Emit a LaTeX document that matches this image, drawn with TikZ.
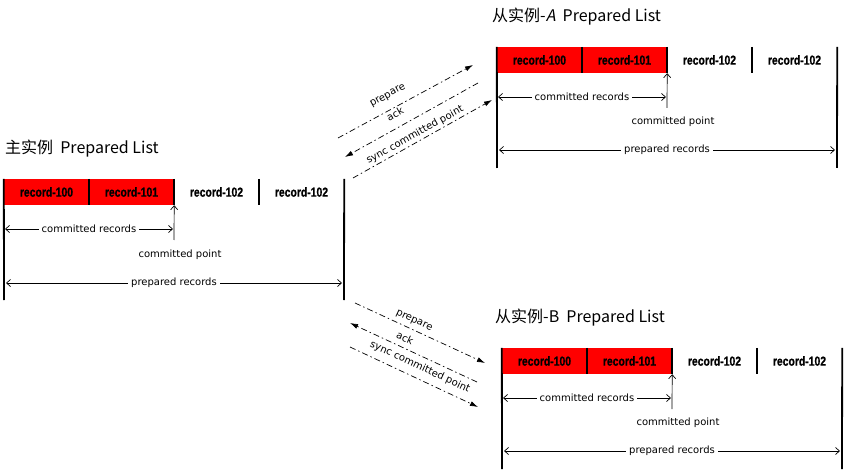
\documentclass[tikz,border=0pt]{standalone}
\usepackage{fontspec}
\setmainfont{DejaVu Sans}
\newfontfamily\titlefont{Noto Sans CJK SC}
\newfontfamily\titleslant[FakeSlant=0.2]{Noto Sans CJK SC}
\newfontfamily\recfont[FakeStretch=0.8, BoldFeatures={FakeBold=1}]{Liberation Sans}
\usetikzlibrary{arrows.meta}

\tikzset{
  cell/.style={minimum width=85pt, minimum height=26pt, inner sep=0pt, font=\recfont\bfseries\fontsize{13}{13}\selectfont},
  done/.style={cell, fill=red},
  bar/.style={line width=1.8pt},
  span/.style={line width=0.7pt, {Straight Barb[length=4pt,width=7pt]}-{Straight Barb[length=4pt,width=7pt]}},
  pointer/.style={line width=0.7pt, -{Straight Barb[length=4pt,width=7pt]}},
  spanlbl/.style={fill=white, inner sep=3pt, font=\fontsize{10}{10}\selectfont},
  lbl/.style={inner sep=1pt, font=\fontsize{10}{10}\selectfont},
  title/.style={anchor=west, inner sep=0pt, font=\titlefont\fontsize{16}{16}\selectfont},
  msg/.style={line width=0.7pt, dash pattern=on 6pt off 3pt on 1.5pt off 3pt, -{Latex[length=8pt,width=5pt]}},
}

\begin{document}
\begin{tikzpicture}[x=1pt, y=-1pt]
    \useasboundingbox (0,0) rectangle (845,470);

    % main list
    \node[title] (mt) at (5,149) {主实例\ \ Prepared List};

    \node[done] (m1) at (46.5,192) {record-100};
    \node[done] (m2) at (131.5,192) {record-101};
    \node[cell] (m3) at (216.5,192) {record-102};
    \node[cell] (m4) at (301.5,192) {record-102};

    \coordinate (mL) at (4,300);
    \coordinate (mR) at (344,300);
    \coordinate (mcp) at (174,240);
    \coordinate (mc0) at (5,229);
    \coordinate (mc1) at (173,229);
    \coordinate (mp0) at (6,283);
    \coordinate (mp1) at (342,283);

    \draw[bar] (m1.north west) -- (mL);
    \draw[bar] (m4.north east) -- (mR);
    \draw[bar] (m1.north east) -- (m1.south east);
    \draw[bar] (m2.north east) -- (m2.south east);
    \draw[bar] (m3.north east) -- (m3.south east);

    \draw[pointer] (mcp) -- (m2.south east);
    \draw[span] (mc0) -- node[spanlbl] (mcr) {committed records} (mc1);
    \draw[span] (mp0) -- node[spanlbl] (mpr) {prepared records} (mp1);
    \node[lbl] (mpt) at (180,255) {committed point};

    % replica A
    \node[title] (at) at (492,17) {从实例-{\titleslant A}\ \ Prepared List};

    \node[done] (a1) at (539.5,60) {record-100};
    \node[done] (a2) at (624.5,60) {record-101};
    \node[cell] (a3) at (709.5,60) {record-102};
    \node[cell] (a4) at (794.5,60) {record-102};

    \coordinate (aL) at (497,168);
    \coordinate (aR) at (837,168);
    \coordinate (acp) at (667,108);
    \coordinate (ac0) at (498,97);
    \coordinate (ac1) at (666,97);
    \coordinate (ap0) at (499,150);
    \coordinate (ap1) at (835,150);

    \draw[bar] (a1.north west) -- (aL);
    \draw[bar] (a4.north east) -- (aR);
    \draw[bar] (a1.north east) -- (a1.south east);
    \draw[bar] (a2.north east) -- (a2.south east);
    \draw[bar] (a3.north east) -- (a3.south east);

    \draw[pointer] (acp) -- (a2.south east);
    \draw[span] (ac0) -- node[spanlbl] (acr) {committed records} (ac1);
    \draw[span] (ap0) -- node[spanlbl] (apr) {prepared records} (ap1);
    \node[lbl] (apt) at (673,122) {committed point};

    % replica B
    \node[title] (bt) at (495,318) {从实例-B\ \ Prepared List};

    \node[done] (b1) at (544.5,361) {record-100};
    \node[done] (b2) at (629.5,361) {record-101};
    \node[cell] (b3) at (714.5,361) {record-102};
    \node[cell] (b4) at (799.5,361) {record-102};

    \coordinate (bL) at (502,469);
    \coordinate (bR) at (842,469);
    \coordinate (bcp) at (672,409);
    \coordinate (bc0) at (503,398);
    \coordinate (bc1) at (671,398);
    \coordinate (bp0) at (504,451);
    \coordinate (bp1) at (840,451);

    \draw[bar] (b1.north west) -- (bL);
    \draw[bar] (b4.north east) -- (bR);
    \draw[bar] (b1.north east) -- (b1.south east);
    \draw[bar] (b2.north east) -- (b2.south east);
    \draw[bar] (b3.north east) -- (b3.south east);

    \draw[pointer] (bcp) -- (b2.south east);
    \draw[span] (bc0) -- node[spanlbl] (bcr) {committed records} (bc1);
    \draw[span] (bp0) -- node[spanlbl] (bpr) {prepared records} (bp1);
    \node[lbl] (bpt) at (678,423) {committed point};

    % messages to A
    \coordinate (ua0) at (338,138);
    \coordinate (ua1) at (473,65);
    \coordinate (ub0) at (478,83);
    \coordinate (ub1) at (345,157);
    \coordinate (uc0) at (353,178);
    \coordinate (uc1) at (492,100);

    \draw[msg] (ua0) -- (ua1);
    \draw[msg] (ub0) -- (ub1);
    \draw[msg] (uc0) -- (uc1);

    \node[lbl, rotate=29] (uprep) at (388,96) {prepare};
    \node[lbl, rotate=29] (uack) at (395,114) {ack};
    \node[lbl, rotate=29] (usync) at (415,135) {sync committed point};

    % messages to B
    \coordinate (la0) at (355,303);
    \coordinate (la1) at (485,363);
    \coordinate (lb0) at (477,382);
    \coordinate (lb1) at (350,323);
    \coordinate (lc0) at (350,347);
    \coordinate (lc1) at (478,407);

    \draw[msg] (la0) -- (la1);
    \draw[msg] (lb0) -- (lb1);
    \draw[msg] (lc0) -- (lc1);

    \node[lbl, rotate=-25] (lprep) at (414,321) {prepare};
    \node[lbl, rotate=-25] (lack) at (405,338) {ack};
    \node[lbl, rotate=-25] (lsync) at (420,367) {sync committed point};

\end{tikzpicture}
\end{document}
